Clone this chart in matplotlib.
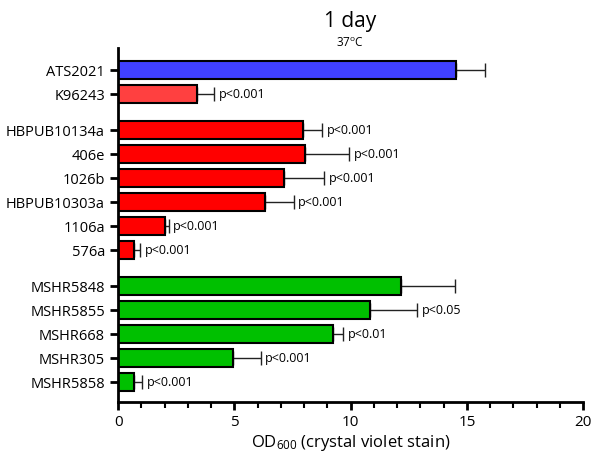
import numpy as np
import matplotlib.pyplot as plt
from matplotlib.ticker import MultipleLocator

plt.rcParams['font.family'] = ['Open Sans', 'DejaVu Sans']
plt.rcParams['mathtext.default'] = 'regular'

# strains, grouped (reference / Bp isolates / Bp isolates 2)
group_a = ['ATS2021', 'K96243']
group_b = ['HBPUB10134a', '406e', '1026b', 'HBPUB10303a', '1106a', '576a']
group_c = ['MSHR5848', 'MSHR5855', 'MSHR668', 'MSHR305', 'MSHR5858']

# mean OD600 and upper error (SD)
vals_a = [14.55, 3.38]
err_a = [1.23, 0.76]
vals_b = [7.93, 8.04, 7.11, 6.31, 2.02, 0.67]
err_b = [0.83, 1.90, 1.75, 1.23, 0.15, 0.28]
vals_c = [12.16, 10.84, 9.23, 4.93, 0.70]
err_c = [2.31, 2.01, 0.46, 1.20, 0.32]

pvals_a = ['', 'p<0.001']
pvals_b = ['p<0.001'] * 6
pvals_c = ['', 'p<0.05', 'p<0.01', 'p<0.001', 'p<0.001']

colors_a = ['#4040ff', '#ff4040']
colors_b = ['#ff0000'] * 6
colors_c = ['#00c000'] * 5

labels = group_a + group_b + group_c
values = vals_a + vals_b + vals_c
errors = err_a + err_b + err_c
pvals = pvals_a + pvals_b + pvals_c
colors = colors_a + colors_b + colors_c

# y positions with half-slot gap between groups
pos = []
y = 0.0
for g in [group_a, group_b, group_c]:
    for _ in g:
        pos.append(y)
        y += 1
    y += 0.5
pos = np.array(pos)

fig = plt.figure(figsize=(6, 4.58), dpi=100)
ax = fig.add_axes([0.197, 0.122, 0.775, 0.773])

ax.barh(pos, values, height=0.75, color=colors, edgecolor='black', linewidth=1.5, zorder=2)
ax.errorbar(values, pos, xerr=[np.zeros(len(values)), errors], fmt='none',
            ecolor='#222222', elinewidth=1, capsize=5, capthick=1, zorder=1)

for v, e, p, yy in zip(values, errors, pvals, pos):
    if p:
        ax.text(v + e + 0.2, yy, p, va='center', ha='left', fontsize=9)

ax.set_yticks(pos)
ax.set_yticklabels(labels, fontsize=10.5)
ax.set_ylim(pos[-1] + 0.83, -0.92)
ax.set_xlim(0, 20)
ax.xaxis.set_major_locator(MultipleLocator(5))
ax.xaxis.set_minor_locator(MultipleLocator(1))
ax.tick_params(axis='x', labelsize=11, width=2, length=6)
ax.tick_params(axis='x', which='minor', width=1.5, length=4)
ax.tick_params(axis='y', width=2, length=6)

for s in ['top', 'right']:
    ax.spines[s].set_visible(False)
for s in ['left', 'bottom']:
    ax.spines[s].set_linewidth(2)

ax.set_xlabel('OD$_{600}$ (crystal violet stain)', fontsize=12, labelpad=2)
fig.text(0.584, 0.952, '1 day', ha='center', va='center', fontsize=15)
fig.text(0.584, 0.906, '37$^{o}$C', ha='center', va='center', fontsize=8.5)

fig.savefig('out.png', dpi=100)
